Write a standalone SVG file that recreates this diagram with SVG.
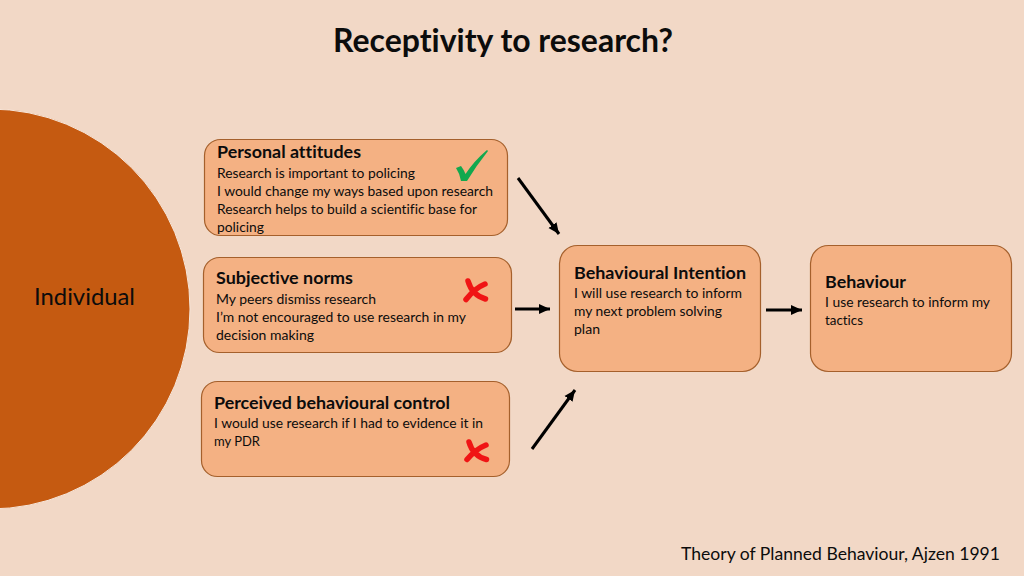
<svg xmlns="http://www.w3.org/2000/svg" width="1024" height="576" viewBox="0 0 1024 576">
<style>
text{font-family:"Lato","Noto Sans","Liberation Sans",sans-serif;fill:#0c0c0c;font-variant-ligatures:none}
.h{font-size:17.5px;font-weight:700}
.b{font-size:14px}
.box{fill:#f4b183;stroke:#a5602c;stroke-width:1.2}
.conn{stroke:#000;stroke-width:3;fill:none;marker-end:url(#a)}
.x{fill:none;stroke:#f01414;stroke-width:5.500;stroke-linecap:round}
</style>
<defs><marker id="a" markerUnits="userSpaceOnUse" markerWidth="12" markerHeight="12" refX="11" refY="5.500" orient="auto"><path d="M0 0.500L11 5.500L0 10.500z" fill="#000"/></marker></defs>
<rect width="1024" height="576" fill="#f2d8c6"/>
<text id="title" x="333" y="52" font-size="32" font-weight="700" textLength="340" lengthAdjust="spacingAndGlyphs">Receptivity to research?</text>
<g id="individual"><circle cx="-10" cy="309" r="200" fill="#c55a11" stroke="#f7e6da"/><text x="34" y="305" font-size="23" textLength="101" lengthAdjust="spacingAndGlyphs">Individual</text></g>
<g id="attitudes"><rect class="box" x="204.500" y="139.500" width="303" height="96" rx="16"/>
<text class="h" x="217" y="158" textLength="144" lengthAdjust="spacingAndGlyphs">Personal attitudes</text>
<text class="b" x="217" y="178" textLength="198" lengthAdjust="spacingAndGlyphs">Research is important to policing</text>
<text class="b" x="217" y="196" textLength="276" lengthAdjust="spacingAndGlyphs">I would change my ways based upon research</text>
<text class="b" x="217" y="214" textLength="260" lengthAdjust="spacingAndGlyphs">Research helps to build a scientific base for</text>
<text class="b" x="217" y="232" textLength="47" lengthAdjust="spacingAndGlyphs">policing</text>
<path d="M456 168L461 166Q464 170 465.500 174Q474 161 487 150L488 151Q476 166 467 181L461 181Q460 174 456 168z" fill="#12a84e"/></g>
<g id="norms"><rect class="box" x="203.500" y="257.500" width="308" height="95" rx="16"/>
<text class="h" x="216" y="284" textLength="137" lengthAdjust="spacingAndGlyphs">Subjective norms</text>
<text class="b" x="216" y="304" textLength="160" lengthAdjust="spacingAndGlyphs">My peers dismiss research</text>
<text class="b" x="216" y="322" textLength="250" lengthAdjust="spacingAndGlyphs">I’m not encouraged to use research in my</text>
<text class="b" x="216" y="340" textLength="98" lengthAdjust="spacingAndGlyphs">decision making</text>
<path class="x" d="M468 281Q472 295 485.500 299M485 284Q475 288 466 299.500"/></g>
<g id="control"><rect class="box" x="201.500" y="381.500" width="308" height="95" rx="16"/>
<text class="h" x="214" y="409" textLength="236" lengthAdjust="spacingAndGlyphs">Perceived behavioural control</text>
<text class="b" x="214" y="428" textLength="269" lengthAdjust="spacingAndGlyphs">I would use research if I had to evidence it in</text>
<text class="b" x="214" y="446" textLength="46" lengthAdjust="spacingAndGlyphs">my PDR</text>
<path class="x" d="M469 442Q473 456 486.500 459.500M486 445Q476 449 467 459.500"/></g>
<g id="intention"><rect class="box" x="559.500" y="245.500" width="201" height="126" rx="18"/>
<text class="h" x="574" y="279" textLength="172" lengthAdjust="spacingAndGlyphs">Behavioural Intention</text>
<text class="b" x="574" y="298" textLength="168" lengthAdjust="spacingAndGlyphs">I will use research to inform</text>
<text class="b" x="574" y="316" textLength="148" lengthAdjust="spacingAndGlyphs">my next problem solving</text>
<text class="b" x="574" y="334" textLength="26" lengthAdjust="spacingAndGlyphs">plan</text></g>
<g id="behaviour"><rect class="box" x="810.500" y="245.500" width="201" height="126" rx="18"/>
<text class="h" x="825" y="288" textLength="81" lengthAdjust="spacingAndGlyphs">Behaviour</text>
<text class="b" x="825" y="307" textLength="165" lengthAdjust="spacingAndGlyphs">I use research to inform my</text>
<text class="b" x="825" y="325" textLength="38" lengthAdjust="spacingAndGlyphs">tactics</text></g>
<g id="connectors">
<path class="conn" d="M518 178L559 234"/>
<path class="conn" d="M515 309L550 309"/>
<path class="conn" d="M532 449L575 390"/>
<path class="conn" d="M766 310L802 310"/>
</g>
<text id="credit" x="681" y="560" font-size="18" textLength="319" lengthAdjust="spacingAndGlyphs">Theory of Planned Behaviour, Ajzen 1991</text>
</svg>
